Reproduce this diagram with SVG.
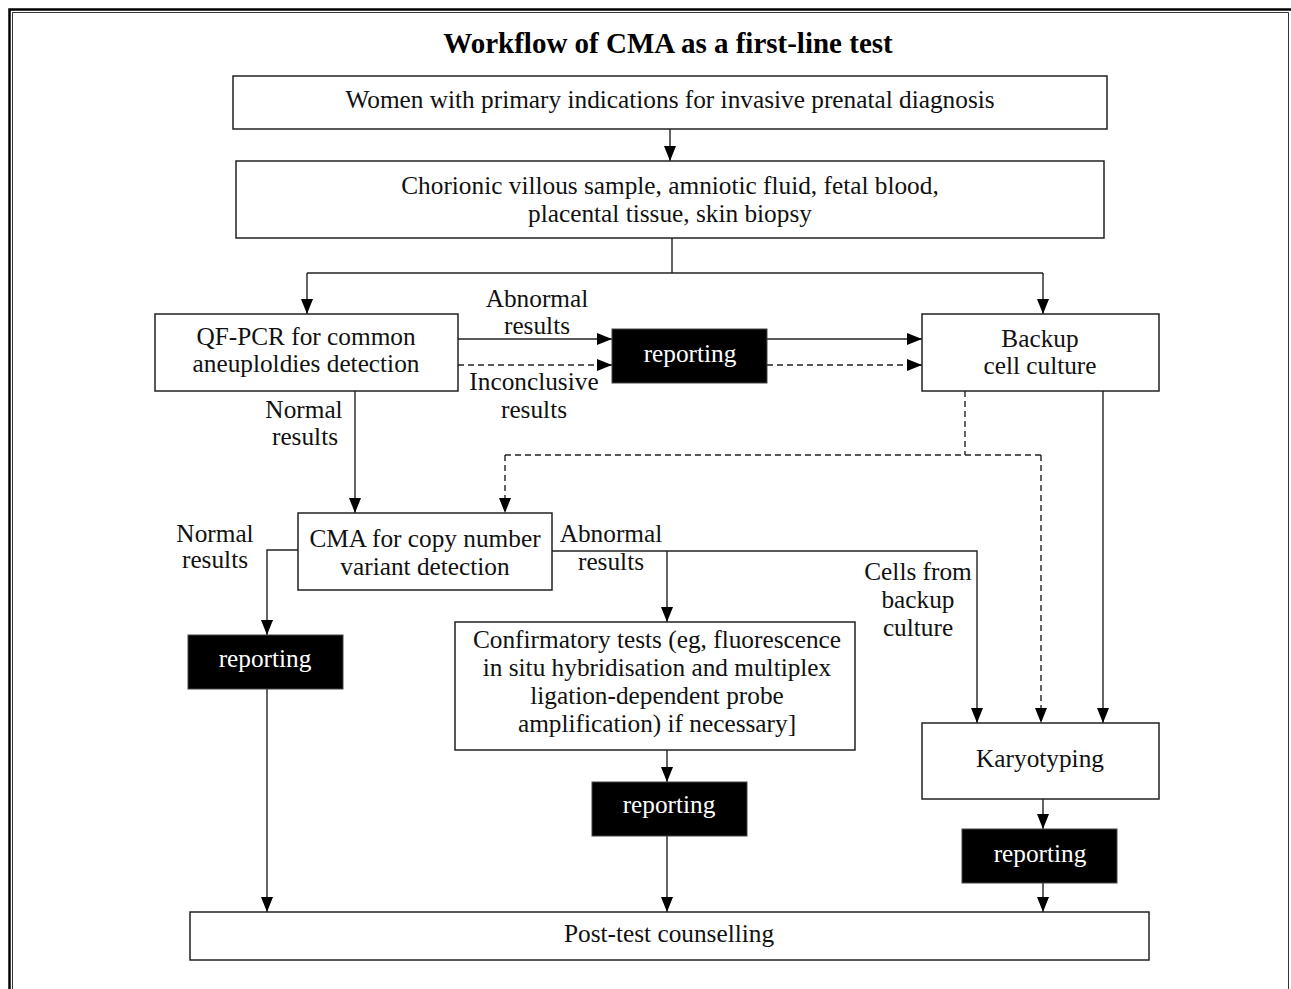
<svg xmlns="http://www.w3.org/2000/svg" width="1291" height="989" viewBox="0 0 1291 989">
<defs>
<marker id="ah" markerUnits="userSpaceOnUse" markerWidth="15" markerHeight="12" refX="15" refY="6" orient="auto">
<path d="M0,0 L15,6 L0,12 z" fill="#000"/>
</marker>
<style>
text{font-family:"Liberation Serif","Times New Roman",serif;font-size:25.3px;fill:#111;text-anchor:middle}
.title{font-size:29px;font-weight:bold;fill:#000}
.box{fill:#fff;stroke:#222;stroke-width:1.5}
.rep rect{fill:#000;stroke:#444;stroke-width:1}
.rep text{fill:#fff;stroke:none}
.c{fill:none;stroke:#222;stroke-width:1.4}
.d{fill:none;stroke:#222;stroke-width:1.4;stroke-dasharray:6 4}
.a{marker-end:url(#ah)}
</style>
</defs>
<rect width="1291" height="989" fill="#fff"/>
<path d="M9.5,989 V9.5 H1291" fill="none" stroke="#000" stroke-width="2.5"/>
<path d="M12.5,989 V12.5 H1288.5 V989" fill="none" stroke="#333" stroke-width="1"/>
<text class="title" x="668" y="53">Workflow of CMA as a first-line test</text>

<g id="connectors">
<line class="c a" x1="670" y1="129" x2="670" y2="161"/>
<path class="c" d="M672,238 V273 M307,273 H1043"/>
<line class="c a" x1="307" y1="273" x2="307" y2="314"/>
<line class="c a" x1="1043" y1="273" x2="1043" y2="314"/>
<line class="c a" x1="458" y1="339" x2="612" y2="339"/>
<line class="d a" x1="458" y1="365" x2="612" y2="365"/>
<line class="c a" x1="767" y1="339" x2="922" y2="339"/>
<line class="d a" x1="767" y1="365" x2="922" y2="365"/>
<line class="c a" x1="355" y1="391" x2="355" y2="513"/>
<path class="d" d="M965,391 V455 M505,455 H1041"/>
<line class="d a" x1="505" y1="455" x2="505" y2="513"/>
<line class="d a" x1="1041" y1="455" x2="1041" y2="723"/>
<line class="c a" x1="1103" y1="391" x2="1103" y2="723"/>
<path class="c a" d="M298,550 H267 V635"/>
<line class="c a" x1="267" y1="689" x2="267" y2="912"/>
<path class="c a" d="M552,551 H977 V723"/>
<line class="c a" x1="667" y1="551" x2="667" y2="622"/>
<line class="c a" x1="667" y1="750" x2="667" y2="782"/>
<line class="c a" x1="667" y1="836" x2="667" y2="912"/>
<line class="c a" x1="1043" y1="799" x2="1043" y2="829"/>
<line class="c a" x1="1043" y1="883" x2="1043" y2="912"/>
</g>

<g id="labels">
<text x="537" y="307">Abnormal</text>
<text x="537" y="334">results</text>
<text x="534" y="390">Inconclusive</text>
<text x="534" y="418">results</text>
<text x="304" y="418">Normal</text>
<text x="305" y="445">results</text>
<text x="215" y="542">Normal</text>
<text x="215" y="568">results</text>
<text x="611" y="542">Abnormal</text>
<text x="611" y="570">results</text>
<text x="918" y="580">Cells from</text>
<text x="918" y="608">backup</text>
<text x="918" y="636">culture</text>
</g>

<g id="women">
<rect class="box" x="233" y="76" width="874" height="53"/>
<text x="670" y="108">Women with primary indications for invasive prenatal diagnosis</text>
</g>
<g id="samples">
<rect class="box" x="236" y="161" width="868" height="77"/>
<text x="670" y="194">Chorionic villous sample, amniotic fluid, fetal blood,</text>
<text x="670" y="222">placental tissue, skin biopsy</text>
</g>
<g id="qfpcr">
<rect class="box" x="155" y="314" width="303" height="77"/>
<text x="306" y="345">QF-PCR for common</text>
<text x="306" y="372">aneuploldies detection</text>
</g>
<g id="reporting1" class="rep">
<rect x="612" y="329" width="155" height="54"/>
<text x="690" y="362">reporting</text>
</g>
<g id="backup">
<rect class="box" x="922" y="314" width="237" height="77"/>
<text x="1040" y="347">Backup</text>
<text x="1040" y="374">cell culture</text>
</g>
<g id="cma">
<rect class="box" x="298" y="513" width="254" height="77"/>
<text x="425" y="547">CMA for copy number</text>
<text x="425" y="575">variant detection</text>
</g>
<g id="reporting2" class="rep">
<rect x="188" y="635" width="155" height="54"/>
<text x="265" y="667">reporting</text>
</g>
<g id="confirm">
<rect class="box" x="455" y="622" width="400" height="128"/>
<text x="657" y="648">Confirmatory tests (eg, fluorescence</text>
<text x="657" y="676">in situ hybridisation and multiplex</text>
<text x="657" y="704">ligation-dependent probe</text>
<text x="657" y="732">amplification) if necessary]</text>
</g>
<g id="reporting3" class="rep">
<rect x="592" y="782" width="155" height="54"/>
<text x="669" y="813">reporting</text>
</g>
<g id="karyo">
<rect class="box" x="922" y="723" width="237" height="76"/>
<text x="1040" y="767">Karyotyping</text>
</g>
<g id="reporting4" class="rep">
<rect x="962" y="829" width="155" height="54"/>
<text x="1040" y="862">reporting</text>
</g>
<g id="posttest">
<rect class="box" x="190" y="912" width="959" height="48"/>
<text x="669" y="942">Post-test counselling</text>
</g>
</svg>
